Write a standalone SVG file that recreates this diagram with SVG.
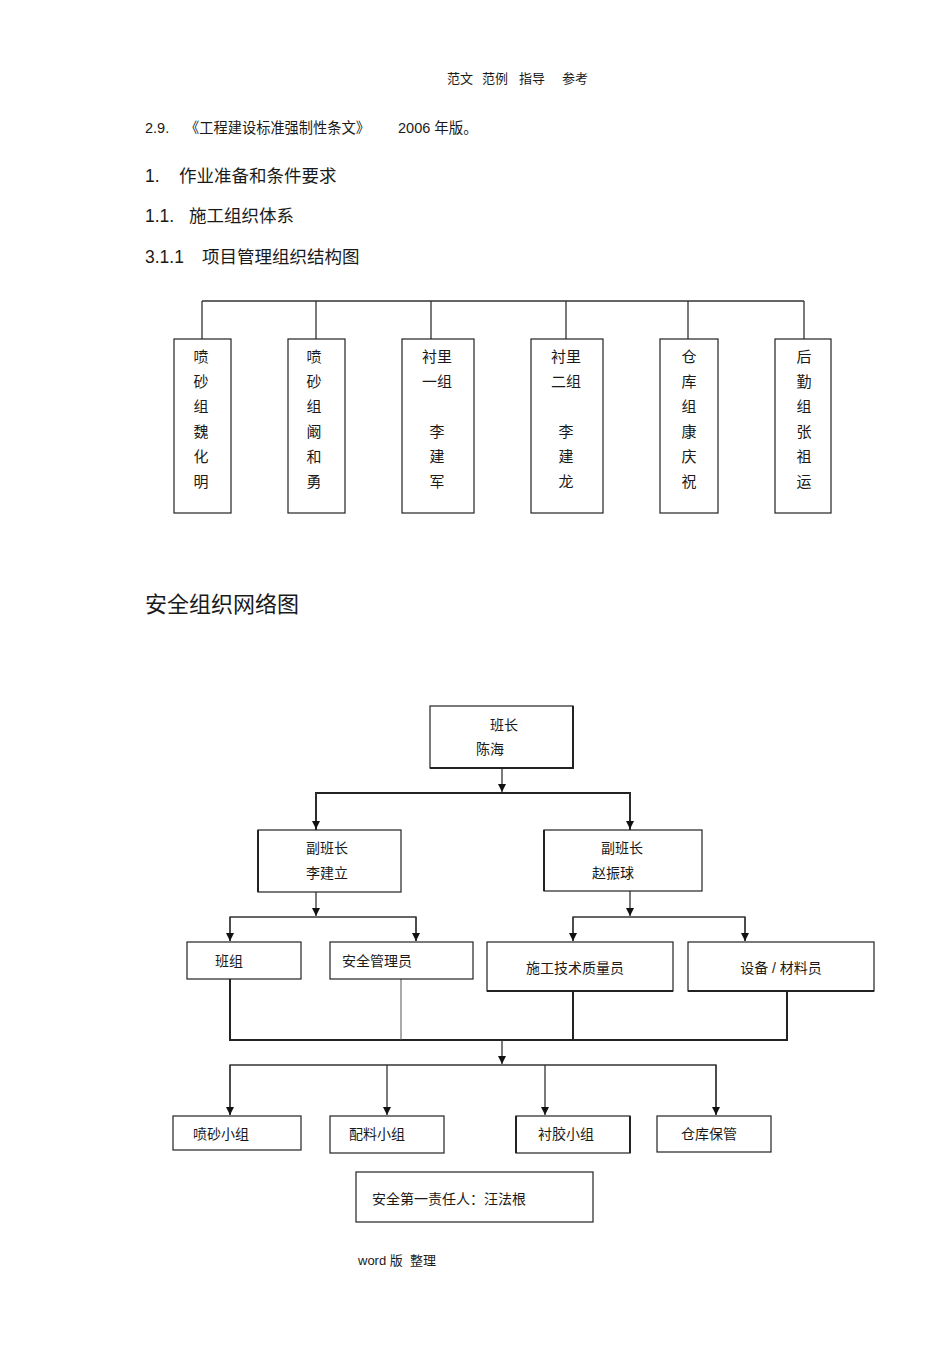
<svg xmlns="http://www.w3.org/2000/svg" width="950" height="1345" viewBox="0 0 950 1345">
<style>
text{font-family:"Liberation Sans","Noto Sans CJK SC",sans-serif;fill:#1a1a1a}
.h{font-size:13px}
.t14{font-size:14px}
.t145{font-size:14.5px}
.t17{font-size:17.5px}
.t21{font-size:22px}
.n{font-size:15px}
.box{fill:#fff;stroke:#222;stroke-width:1.2}
.ln{fill:none;stroke:#333;stroke-width:1.3}
.lt{fill:none;stroke:#222;stroke-width:2}
.ltn{fill:none;stroke:#555;stroke-width:1}
.c{text-anchor:middle}
</style>
<defs>
<marker id="ar" viewBox="0 0 10 10" refX="10" refY="5" markerWidth="8" markerHeight="8" markerUnits="userSpaceOnUse" orient="auto">
<path d="M0,0 L10,5 L0,10 z" fill="#111"/>
</marker>
</defs>
<rect width="950" height="1345" fill="#fff"/>
<text class="h" x="447" y="83">范文</text>
<text class="h" x="482" y="83">范例</text>
<text class="h" x="519" y="83">指导</text>
<text class="h" x="562" y="83">参考</text>
<text class="t145" x="145" y="133">2.9.</text>
<text class="t145" x="185" y="133" textLength="185" lengthAdjust="spacingAndGlyphs">《工程建设标准强制性条文》</text>
<text class="t145" x="398" y="133" xml:space="preserve">2006 年版。</text>
<text class="t17" x="145" y="182">1.</text><text class="t17" x="179" y="182">作业准备和条件要求</text>
<text class="t17" x="145" y="222">1.1.</text><text class="t17" x="189" y="222">施工组织体系</text>
<text class="t17" x="145" y="263">3.1.1</text><text class="t17" x="202" y="263">项目管理组织结构图</text>

<g id="connectors-top">
<path class="ln" d="M202,301 H804 M202,301 V339 M316,301 V339 M431,301 V339 M566,301 V339 M688,301 V339 M804,301 V339"/>
</g>
<g id="n1"><rect class="box" x="174" y="339" width="57" height="174"/>
<text class="n c" x="201"><tspan x="201" y="362">喷</tspan><tspan x="201" y="387">砂</tspan><tspan x="201" y="412">组</tspan><tspan x="201" y="437">魏</tspan><tspan x="201" y="462">化</tspan><tspan x="201" y="487">明</tspan></text></g>
<g id="n2"><rect class="box" x="288" y="339" width="57" height="174"/>
<text class="n c" x="314"><tspan x="314" y="362">喷</tspan><tspan x="314" y="387">砂</tspan><tspan x="314" y="412">组</tspan><tspan x="314" y="437">阚</tspan><tspan x="314" y="462">和</tspan><tspan x="314" y="487">勇</tspan></text></g>
<g id="n3"><rect class="box" x="402" y="339" width="72" height="174"/>
<text class="n c" x="437"><tspan x="437" y="362">衬里</tspan><tspan x="437" y="387">一组</tspan><tspan x="437" y="437">李</tspan><tspan x="437" y="462">建</tspan><tspan x="437" y="487">军</tspan></text></g>
<g id="n4"><rect class="box" x="531" y="339" width="72" height="174"/>
<text class="n c" x="566"><tspan x="566" y="362">衬里</tspan><tspan x="566" y="387">二组</tspan><tspan x="566" y="437">李</tspan><tspan x="566" y="462">建</tspan><tspan x="566" y="487">龙</tspan></text></g>
<g id="n5"><rect class="box" x="660" y="339" width="58" height="174"/>
<text class="n c" x="689"><tspan x="689" y="362">仓</tspan><tspan x="689" y="387">库</tspan><tspan x="689" y="412">组</tspan><tspan x="689" y="437">康</tspan><tspan x="689" y="462">庆</tspan><tspan x="689" y="487">祝</tspan></text></g>
<g id="n6"><rect class="box" x="775" y="339" width="56" height="174"/>
<text class="n c" x="804"><tspan x="804" y="362">后</tspan><tspan x="804" y="387">勤</tspan><tspan x="804" y="412">组</tspan><tspan x="804" y="437">张</tspan><tspan x="804" y="462">祖</tspan><tspan x="804" y="487">运</tspan></text></g>

<text class="t21" x="145" y="612">安全组织网络图</text>

<g id="connectors">
<path class="ln" d="M502,768 V792" marker-end="url(#ar)"/>
<path class="lt" d="M316,830 V793 H630 V830"/>
<path class="ln" d="M316,793 V829" marker-end="url(#ar)"/>
<path class="ln" d="M630,793 V829" marker-end="url(#ar)"/>
<path class="ln" d="M316,892 V916" marker-end="url(#ar)"/>
<path class="ln" d="M630,891 V916" marker-end="url(#ar)"/>
<path class="ln" d="M230,941 V917 H416 V941"/>
<path class="ln" d="M230,917 V941" marker-end="url(#ar)"/>
<path class="ln" d="M416,917 V941" marker-end="url(#ar)"/>
<path class="ln" d="M573,941 V917 H745 V941"/>
<path class="ln" d="M573,917 V941" marker-end="url(#ar)"/>
<path class="ln" d="M745,917 V941" marker-end="url(#ar)"/>
<path class="lt" d="M230,979 V1040 H787 V991"/>
<path class="lt" d="M573,991 V1040"/>
<path class="ltn" d="M401,979 V1040"/>
<path class="ln" d="M502,1040 V1064" marker-end="url(#ar)"/>
<path class="ln" d="M230,1115 V1065 H716 V1115"/>
<path class="ln" d="M230,1065 V1115" marker-end="url(#ar)"/>
<path class="ln" d="M387,1065 V1115" marker-end="url(#ar)"/>
<path class="ln" d="M545,1065 V1115" marker-end="url(#ar)"/>
<path class="ln" d="M716,1065 V1115" marker-end="url(#ar)"/>
</g>

<g id="banzhang"><rect class="box" x="430" y="706" width="143" height="62"/>
<path class="lt" d="M573,706 V768 H430"/>
<text class="t14" x="490" y="730">班长</text><text class="t14" x="476" y="754">陈海</text></g>
<g id="fu1"><rect class="box" x="258" y="830" width="143" height="62"/>
<path class="lt" d="M258,830 V892"/>
<text class="t14 c" x="327" y="853">副班长</text><text class="t14 c" x="327" y="878">李建立</text></g>
<g id="fu2"><rect class="box" x="544" y="830" width="158" height="61"/>
<path class="lt" d="M544,830 V891"/>
<text class="t14 c" x="622" y="853">副班长</text><text class="t14 c" x="613" y="878">赵振球</text></g>
<g id="banzu"><rect class="box" x="187" y="942" width="114" height="37"/>
<text class="t14" x="215" y="966">班组</text></g>
<g id="anquan"><rect class="box" x="330" y="942" width="143" height="37"/>
<text class="t14" x="342" y="966">安全管理员</text></g>
<g id="shigong"><rect class="box" x="487" y="942" width="186" height="49"/>
<path class="lt" d="M487,991 H673"/>
<text class="t14 c" x="575" y="973">施工技术质量员</text></g>
<g id="shebei"><rect class="box" x="688" y="942" width="186" height="49"/>
<path class="lt" d="M688,991 H874"/>
<text class="t14 c" x="781" y="973">设备 / 材料员</text></g>
<g id="pensha"><rect class="box" x="173" y="1116" width="128" height="34"/>
<text class="t14" x="193" y="1139">喷砂小组</text></g>
<g id="peiliao"><rect class="box" x="330" y="1116" width="114" height="37"/>
<text class="t14" x="349" y="1139">配料小组</text></g>
<g id="chenjiao"><rect class="box" x="516" y="1116" width="114" height="37"/>
<path class="lt" d="M516,1116 V1153 M630,1116 V1153"/>
<text class="t14" x="538" y="1139">衬胶小组</text></g>
<g id="cangku"><rect class="box" x="657" y="1116" width="114" height="36"/>
<text class="t14" x="681" y="1139">仓库保管</text></g>
<g id="zeren"><rect class="box" x="356" y="1172" width="237" height="50"/>
<text class="t14" x="372" y="1204">安全第一责任人：汪法根</text></g>
<text class="h" x="358" y="1265" xml:space="preserve">word 版  整理</text>
</svg>
